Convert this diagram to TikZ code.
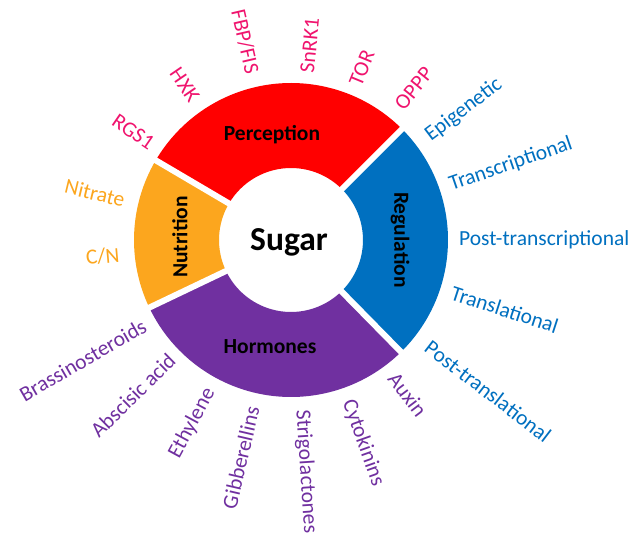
\documentclass[tikz,border=0pt]{standalone}
\usepackage{fontspec}
\setmainfont{Carlito}
\definecolor{cRed}{HTML}{FF0000}
\definecolor{cBlue}{HTML}{0070C0}
\definecolor{cPurple}{HTML}{7030A0}
\definecolor{cOrange}{HTML}{FCA61E}
\definecolor{cPink}{HTML}{F0146E}
\begin{document}
\begin{tikzpicture}[x=1pt,y=1pt,
  lab/.style={inner sep=0pt,font=\fontsize{21.5}{24}\selectfont},
  seglab/.style={inner sep=0pt,font=\fontsize{21.5}{24}\selectfont\bfseries,text=black},
  gap/.style={white,line width=6pt}]
\useasboundingbox (0,0) rectangle (635,-535);
\fill[white] (0,0) rectangle (635,-535);
\begin{scope}[shift={(291,-240)}]
  \def\Ro{157}\def\Ri{72}
  % sectors
  \fill[cRed] (45:\Ro) arc[start angle=45,end angle=149.5,radius=\Ro] -- (149.5:\Ri) arc[start angle=149.5,end angle=45,radius=\Ri] -- cycle;
  \fill[cOrange] (149.5:\Ro) arc[start angle=149.5,end angle=205.5,radius=\Ro] -- (205.5:\Ri) arc[start angle=205.5,end angle=149.5,radius=\Ri] -- cycle;
  \fill[cPurple] (205.5:\Ro) arc[start angle=205.5,end angle=314.5,radius=\Ro] -- (314.5:\Ri) arc[start angle=314.5,end angle=205.5,radius=\Ri] -- cycle;
  \fill[cBlue] (-45.5:\Ro) arc[start angle=-45.5,end angle=45,radius=\Ro] -- (45:\Ri) arc[start angle=45,end angle=-45.5,radius=\Ri] -- cycle;
  % gaps
  \draw[gap] (45:60) -- (45:165);
  \draw[gap] (149.5:60) -- (149.5:165);
  \draw[gap] (205.5:60) -- (205.5:165);
  \draw[gap] (-45.5:60) -- (-45.5:165);
  % centre
  \node[inner sep=0pt,font=\fontsize{33.5}{36}\selectfont\bfseries] (sugar) at (-2,-2) {Sugar};
  % segment titles
  \node[seglab] (perc) at (-19,105) {Perception};
  \node[seglab,rotate=90] (nutr) at (-111,3) {Nutrition};
  \node[seglab,rotate=-90] (regu) at (109,0) {Regulation};
  \node[seglab] (horm) at (-21,-107) {Hormones};
  % perception labels
  \begin{scope}[cPink]
  \node[lab,anchor=east,rotate=-34.4] (rgs) at (145.6:168) {RGS1};
  \node[lab,anchor=east,rotate=-55.6] (hxk) at (124.4:170) {HXK};
  \node[lab,anchor=east,rotate=-77] (fbp) at (103:171) {FBP/FIS};
  \node[lab,anchor=west,rotate=84.5] (snrk) at (84.5:168) {SnRK1};
  \node[lab,anchor=west,rotate=67.6] (tor) at (67.6:168) {TOR};
  \node[lab,anchor=west,rotate=51] (oppp) at (51:171) {OPPP};
  \end{scope}
  % regulation labels
  \begin{scope}[cBlue]
  \node[lab,anchor=west,rotate=37] (epi) at (37:171) {Epigenetic};
  \node[lab,anchor=west,rotate=19] (tran) at (19:168) {Transcriptional};
  \node[lab,anchor=west,rotate=0] (ptran) at (0:168) {Post-transcriptional};
  \node[lab,anchor=west,rotate=-18] (transl) at (-18:169) {Translational};
  \node[lab,anchor=west,rotate=-37.5] (ptransl) at (-37.5:172) {Post-translational};
  \end{scope}
  % nutrition labels
  \begin{scope}[cOrange]
  \node[lab,anchor=east,rotate=-13.5] (nit) at (166.5:171) {Nitrate};
  \node[lab,anchor=east,rotate=5] (cn) at (185:172) {C/N};
  \end{scope}
  % hormone labels
  \begin{scope}[cPurple]
  \node[lab,anchor=east,rotate=30] (bras) at (210:169) {Brassinosteroids};
  \node[lab,anchor=east,rotate=44.5] (aba) at (224.5:167) {Abscisic acid};
  \node[lab,anchor=east,rotate=61.6] (eth) at (241.6:170) {Ethylene};
  \node[lab,anchor=east,rotate=77] (gib) at (257:171) {Gibberellins};
  \node[lab,anchor=west,rotate=-86.3] (strig) at (-86.3:170) {Strigolactones};
  \node[lab,anchor=west,rotate=-70.4] (cyto) at (-70.4:170) {Cytokinins};
  \node[lab,anchor=west,rotate=-53] (aux) at (-53:169) {Auxin};
  \end{scope}
\end{scope}
\end{tikzpicture}
\end{document}
